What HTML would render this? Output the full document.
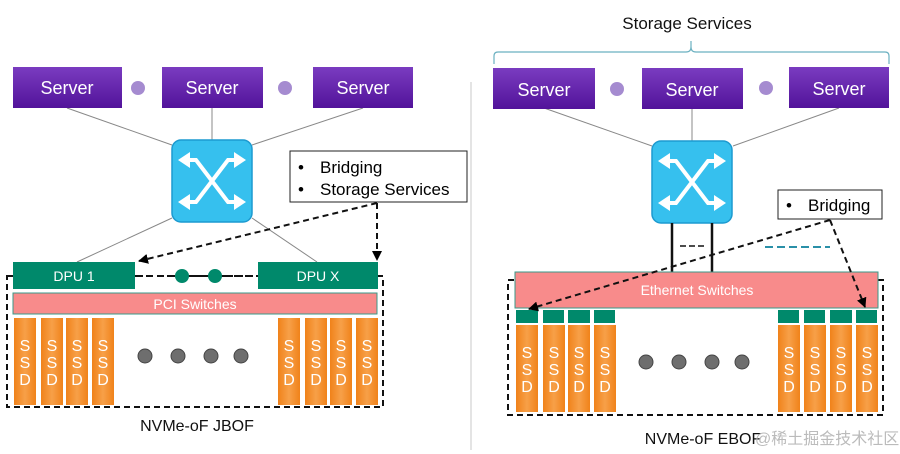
<!DOCTYPE html>
<html><head><meta charset="utf-8"><style>
html,body{margin:0;padding:0;background:#fff;}
svg{display:block;}
text{font-family:"Liberation Sans",Arial,sans-serif;}
</style></head><body>
<svg width="900" height="454" viewBox="0 0 900 454" xmlns="http://www.w3.org/2000/svg">
<defs>
<linearGradient id="pur" x1="0" y1="0" x2="0" y2="1"><stop offset="0" stop-color="#7a3cc0"/><stop offset="1" stop-color="#52139a"/></linearGradient>
<linearGradient id="org" x1="0" y1="0" x2="1" y2="0"><stop offset="0" stop-color="#f0821a"/><stop offset="0.5" stop-color="#f7a048"/><stop offset="1" stop-color="#f0821a"/></linearGradient>
<marker id="ah" markerWidth="10" markerHeight="10" refX="9" refY="5" orient="auto" markerUnits="userSpaceOnUse"><path d="M0,0 L10,5 L0,10 z" fill="#000"/></marker>
<g id="sw">
<rect x="0" y="0" width="80" height="82" rx="9" fill="#36c0ee" stroke="#1c9ad0" stroke-width="1.5"/>
<path d="M14,20 L24,20 L56,62 L66,62 M14,62 L24,62 L56,20 L66,20" fill="none" stroke="#fff" stroke-width="4"/>
<path d="M6,20 L18,12 L18,28 z M74,20 L62,12 L62,28 z M6,62 L18,54 L18,70 z M74,62 L62,54 L62,70 z" fill="#fff"/>
</g>
<g id="ssd">
<rect x="0" y="0" width="22" height="87" fill="url(#org)"/>
<text x="11" y="33" font-size="16" fill="#fff" text-anchor="middle">S</text>
<text x="11" y="50" font-size="16" fill="#fff" text-anchor="middle">S</text>
<text x="11" y="67" font-size="16" fill="#fff" text-anchor="middle">D</text>
</g>
</defs>

<line x1="471" y1="82" x2="471" y2="450" stroke="#c8c8c8" stroke-width="1"/>

<!-- LEFT -->
<g stroke="#888" stroke-width="1">
<line x1="67" y1="108" x2="172" y2="145"/>
<line x1="212" y1="108" x2="212" y2="140"/>
<line x1="363" y1="108" x2="252" y2="145"/>
<line x1="172" y1="218" x2="77" y2="262"/>
<line x1="252" y1="218" x2="317" y2="262"/>
</g>
<rect x="13" y="67" width="109" height="41" fill="url(#pur)"/>
<rect x="162" y="67" width="101" height="41" fill="url(#pur)"/>
<rect x="313" y="67" width="100" height="41" fill="url(#pur)"/>
<g font-size="18" fill="#fff" text-anchor="middle">
<text x="67" y="94">Server</text><text x="212" y="94">Server</text><text x="363" y="94">Server</text>
</g>
<circle cx="138" cy="88" r="7" fill="#a58bd0"/>
<circle cx="285" cy="88" r="7" fill="#a58bd0"/>
<use href="#sw" x="172" y="140"/>
<rect x="290" y="151" width="177" height="51" fill="#fff" stroke="#222" stroke-width="1"/>
<text x="298" y="173" font-size="17" fill="#000">•</text>
<text x="320" y="173" font-size="17" fill="#000">Bridging</text>
<text x="298" y="195" font-size="17" fill="#000">•</text>
<text x="320" y="195" font-size="17" fill="#000">Storage Services</text>

<rect x="7" y="276" width="376" height="131" fill="none" stroke="#111" stroke-width="2" stroke-dasharray="6,4"/>
<line x1="135" y1="276" x2="258" y2="276" stroke="#111" stroke-width="2" stroke-dasharray="7,4"/>
<circle cx="182" cy="276" r="7" fill="#00896b"/>
<circle cx="215" cy="276" r="7" fill="#00896b"/>
<rect x="13" y="262" width="122" height="27" fill="#00896b"/>
<rect x="258" y="262" width="120" height="27" fill="#00896b"/>
<text x="74" y="281" font-size="14" fill="#fff" text-anchor="middle">DPU 1</text>
<text x="318" y="281" font-size="14" fill="#fff" text-anchor="middle">DPU X</text>
<rect x="13" y="293" width="364" height="21" fill="#f88b8b" stroke="#3a9a88" stroke-width="1"/>
<text x="195" y="309" font-size="14" fill="#fff" text-anchor="middle">PCI Switches</text>
<use href="#ssd" x="14" y="318"/><use href="#ssd" x="41" y="318"/><use href="#ssd" x="66" y="318"/><use href="#ssd" x="92" y="318"/>
<use href="#ssd" x="278" y="318"/><use href="#ssd" x="305" y="318"/><use href="#ssd" x="330" y="318"/><use href="#ssd" x="356" y="318"/>
<g fill="#6e6e6e" stroke="#444" stroke-width="1">
<circle cx="145" cy="356" r="7"/><circle cx="178" cy="356" r="7"/><circle cx="211" cy="356" r="7"/><circle cx="241" cy="356" r="7"/>
</g>
<line x1="377" y1="203" x2="139" y2="261" stroke="#111" stroke-width="2" stroke-dasharray="6,4" marker-end="url(#ah)"/>
<line x1="377" y1="203" x2="377" y2="260" stroke="#111" stroke-width="2" stroke-dasharray="6,4" marker-end="url(#ah)"/>
<text x="197" y="431" font-size="16" fill="#111" text-anchor="middle">NVMe-oF JBOF</text>

<!-- RIGHT -->
<text x="687" y="29" font-size="17" fill="#111" text-anchor="middle">Storage Services</text>
<path d="M494,64 L494,56 Q494,52 498,52 L686,52 Q691,52 691,47 L691,41 M691,47 Q691,52 696,52 L885,52 Q889,52 889,56 L889,64" fill="none" stroke="#6ab0c0" stroke-width="1.2"/>
<g stroke="#888" stroke-width="1">
<line x1="544" y1="108" x2="652" y2="146"/>
<line x1="692" y1="108" x2="692" y2="141"/>
<line x1="839" y1="108" x2="733" y2="146"/>
</g>
<rect x="493" y="68" width="102" height="41" fill="url(#pur)"/>
<rect x="642" y="68" width="101" height="41" fill="url(#pur)"/>
<rect x="789" y="67" width="100" height="41" fill="url(#pur)"/>
<g font-size="18" fill="#fff" text-anchor="middle">
<text x="544" y="96">Server</text><text x="692" y="96">Server</text><text x="839" y="95">Server</text>
</g>
<circle cx="617" cy="89" r="7" fill="#a58bd0"/>
<circle cx="766" cy="88" r="7" fill="#a58bd0"/>
<use href="#sw" x="652" y="141"/>
<line x1="672" y1="223" x2="672" y2="272" stroke="#111" stroke-width="2.5"/>
<line x1="712" y1="223" x2="712" y2="272" stroke="#111" stroke-width="2.5"/>
<line x1="680" y1="246" x2="706" y2="246" stroke="#111" stroke-width="1.5" stroke-dasharray="6,3"/>
<line x1="765" y1="247" x2="830" y2="247" stroke="#2a90a8" stroke-width="2" stroke-dasharray="8,4"/>
<rect x="778" y="190" width="104" height="29" fill="#fff" stroke="#222" stroke-width="1"/>
<text x="786" y="211" font-size="17" fill="#000">•</text>
<text x="808" y="211" font-size="17" fill="#000">Bridging</text>

<rect x="508" y="280" width="375" height="135" fill="none" stroke="#111" stroke-width="2" stroke-dasharray="6,4"/>
<rect x="515" y="272" width="363" height="36" fill="#f88b8b" stroke="#3a9a88" stroke-width="1"/>
<text x="697" y="295" font-size="14" fill="#fff" text-anchor="middle">Ethernet Switches</text>
<g fill="#00896b">
<rect x="516" y="310" width="22" height="13"/><rect x="543" y="310" width="21" height="13"/><rect x="568" y="310" width="22" height="13"/><rect x="594" y="310" width="21" height="13"/>
<rect x="778" y="310" width="21" height="13"/><rect x="804" y="310" width="21" height="13"/><rect x="830" y="310" width="22" height="13"/><rect x="856" y="310" width="21" height="13"/>
</g>
<use href="#ssd" x="516" y="325"/><use href="#ssd" x="543" y="325"/><use href="#ssd" x="568" y="325"/><use href="#ssd" x="594" y="325"/>
<use href="#ssd" x="778" y="325"/><use href="#ssd" x="804" y="325"/><use href="#ssd" x="830" y="325"/><use href="#ssd" x="856" y="325"/>
<g fill="#6e6e6e" stroke="#444" stroke-width="1">
<circle cx="646" cy="362" r="7"/><circle cx="679" cy="362" r="7"/><circle cx="712" cy="362" r="7"/><circle cx="742" cy="362" r="7"/>
</g>
<line x1="830" y1="220" x2="529" y2="309" stroke="#111" stroke-width="2" stroke-dasharray="6,4" marker-end="url(#ah)"/>
<line x1="830" y1="220" x2="865" y2="307" stroke="#111" stroke-width="2" stroke-dasharray="6,4" marker-end="url(#ah)"/>
<text x="703" y="444" font-size="16" fill="#111" text-anchor="middle">NVMe-oF EBOF</text>
<text x="755" y="444" font-size="16" fill="#bbb" font-family="'Noto Serif CJK SC','Noto Sans CJK SC',serif">@稀土掘金技术社区</text>
</svg>
</body></html>
